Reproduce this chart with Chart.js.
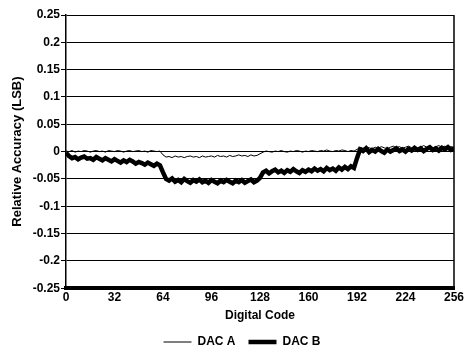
<!DOCTYPE html>
<html>
<head>
<meta charset="utf-8">
<script src="https://cdn.jsdelivr.net/npm/chart.js@4"></script>
<style>
  body { margin: 0; background: #fff; }
  #wrap { width: 468px; height: 358px; position: relative; }
</style>
</head>
<body>
<div id="wrap"><canvas id="chart"></canvas></div>
<script>
// Códigos digitales (paso de 2)
const CODES = [];
for (let c = 0; c <= 256; c += 2) CODES.push(c);

// Valores (LSB)
const DAC_A = [
    0.001, 0.000, 0.002, -0.001, 0.001, 0.000, 0.002, 0.001, -0.001, 0.001, 0.002, 0.000, 0.001, -0.001, 0.002, 0.001,
    0.000, 0.002, 0.001, -0.001, 0.001, 0.002, 0.000, 0.001, 0.002, 0.000, 0.001, -0.001, 0.002, 0.001, 0.000, 0.001,
    -0.006,
    -0.010, -0.009, -0.011, -0.008, -0.010, -0.009, -0.011, -0.009, -0.008, -0.010, -0.009, -0.011, -0.008, -0.010, -0.009, -0.008,
    -0.010, -0.007, -0.009, -0.008, -0.010, -0.007, -0.009, -0.008, -0.006, -0.008, -0.007, -0.009, -0.006, -0.008, -0.007,
    -0.004,
    -0.001, 0.001, 0.000, -0.001, 0.001, 0.000, 0.002, 0.000, -0.001, 0.001, 0.000, 0.002, 0.001, -0.001, 0.001, 0.000,
    0.002, 0.001, 0.000, 0.002, 0.001, 0.003, 0.001, 0.000, 0.002, 0.001, 0.003, 0.002, 0.000, 0.002, 0.001,
    0.004,
    0.008, 0.006, 0.009, 0.007, 0.005, 0.008, 0.006, 0.009, 0.007, 0.005, 0.008, 0.010, 0.007, 0.009, 0.006, 0.008,
    0.010, 0.007, 0.009, 0.006, 0.008, 0.011, 0.008, 0.010, 0.007, 0.009, 0.011, 0.008, 0.010, 0.007, 0.009, 0.008
];

const DAC_B = [
    -0.002, -0.008, -0.012, -0.010, -0.014, -0.011, -0.009, -0.013, -0.012, -0.015, -0.010, -0.013, -0.016, -0.012, -0.015, -0.018,
    -0.014, -0.017, -0.020, -0.016, -0.019, -0.015, -0.018, -0.022, -0.019, -0.021, -0.024, -0.020, -0.023, -0.026, -0.022, -0.025,
    -0.038,
    -0.050, -0.053, -0.049, -0.055, -0.052, -0.056, -0.050, -0.054, -0.057, -0.052, -0.055, -0.051, -0.056, -0.053, -0.057, -0.052,
    -0.055, -0.058, -0.053, -0.056, -0.052, -0.055, -0.058, -0.053, -0.056, -0.052, -0.057, -0.054, -0.051, -0.056, -0.053,
    -0.048,
    -0.038, -0.035, -0.040, -0.036, -0.033, -0.038, -0.035, -0.039, -0.034, -0.037, -0.032, -0.036, -0.039, -0.034, -0.037, -0.033,
    -0.036, -0.031, -0.035, -0.032, -0.036, -0.030, -0.034, -0.031, -0.035, -0.029, -0.033, -0.028, -0.032, -0.027, -0.030,
    -0.012,
    0.004, 0.001, 0.006, -0.001, 0.003, 0.000, 0.005, 0.001, -0.002, 0.004, 0.000, 0.003, 0.006, 0.001, 0.004, 0.000,
    0.005, 0.002, 0.007, 0.003, 0.006, 0.001, 0.005, 0.008, 0.003, 0.006, 0.002, 0.007, 0.004, 0.008, 0.003, 0.005
];

const X_TICKS = [0, 32, 64, 96, 128, 160, 192, 224, 256];
const Y_TICKS = [0.25, 0.2, 0.15, 0.1, 0.05, 0, -0.05, -0.1, -0.15, -0.2, -0.25];

const FAMILY = 'Liberation Sans, Arial, sans-serif';
const FONT_TICK = { family: FAMILY, size: 12, weight: 'bold' };
const FONT_TITLE = { family: FAMILY, size: 12, weight: 'bold' };

// Marco derecho del área del gráfico + leyenda algo desplazada a la derecha
const marco = {
    id: 'marco',
    afterLayout(chart) {
        if (chart.legend) {
            chart.legend.left += 15;
            chart.legend.right += 15;
        }
    },
    afterDraw(chart) {
        const { ctx, chartArea: a } = chart;
        ctx.save();
        ctx.strokeStyle = '#000';
        ctx.lineWidth = 1.5;
        ctx.beginPath();
        ctx.moveTo(a.right, a.top);
        ctx.lineTo(a.right, a.bottom);
        ctx.stroke();
        ctx.restore();
    }
};

new Chart(document.getElementById('chart'), {
    type: 'line',
    data: {
        datasets: [
            {
                label: 'DAC A',
                data: CODES.map((c, i) => ({ x: c, y: DAC_A[i] })),
                borderColor: '#000',
                backgroundColor: '#000',
                borderWidth: 1,
                pointRadius: 0,
                pointStyle: 'line',
                tension: 0
            },
            {
                label: 'DAC B',
                data: CODES.map((c, i) => ({ x: c, y: DAC_B[i] })),
                borderColor: '#000',
                backgroundColor: '#000',
                borderWidth: 4.5,
                pointRadius: 0,
                pointStyle: 'line',
                tension: 0
            }
        ]
    },
    options: {
        responsive: true,
        maintainAspectRatio: false,
        animation: false,
        layout: { padding: { top: 15, right: 14, left: 0, bottom: 0 } },
        plugins: {
            legend: {
                position: 'bottom',
                labels: {
                    color: '#000',
                    font: FONT_TITLE,
                    usePointStyle: true,
                    pointStyleWidth: 28,
                    padding: 13
                }
            },
            tooltip: { enabled: false }
        },
        scales: {
            x: {
                type: 'linear',
                min: 0,
                max: 256,
                afterBuildTicks: s => { s.ticks = X_TICKS.map(v => ({ value: v })); },
                ticks: { color: '#000', font: FONT_TICK, padding: 2, maxRotation: 0 },
                grid: { display: false, drawTicks: false, tickLength: 0 },
                border: { display: true, color: '#000', width: 4 },
                title: { display: true, text: 'Digital Code', color: '#000', font: FONT_TITLE, padding: { top: 2, bottom: 0 } }
            },
            y: {
                min: -0.25,
                max: 0.25,
                afterBuildTicks: s => { s.ticks = Y_TICKS.map(v => ({ value: v })); },
                afterFit: s => { s.width = 66; },
                ticks: {
                    color: '#000',
                    font: FONT_TICK,
                    padding: 1,
                    callback: v => String(Math.round(v * 100) / 100)
                },
                grid: { color: '#000', lineWidth: 1, tickLength: 5, tickColor: '#000' },
                border: { display: true, color: '#000', width: 1.5 },
                title: { display: true, text: 'Relative Accuracy (LSB)', color: '#000',
                         font: { family: FAMILY, size: 13, weight: 'bold' }, padding: { top: 10, bottom: 4 } }
            }
        }
    },
    plugins: [marco]
});
</script>
</body>
</html>
